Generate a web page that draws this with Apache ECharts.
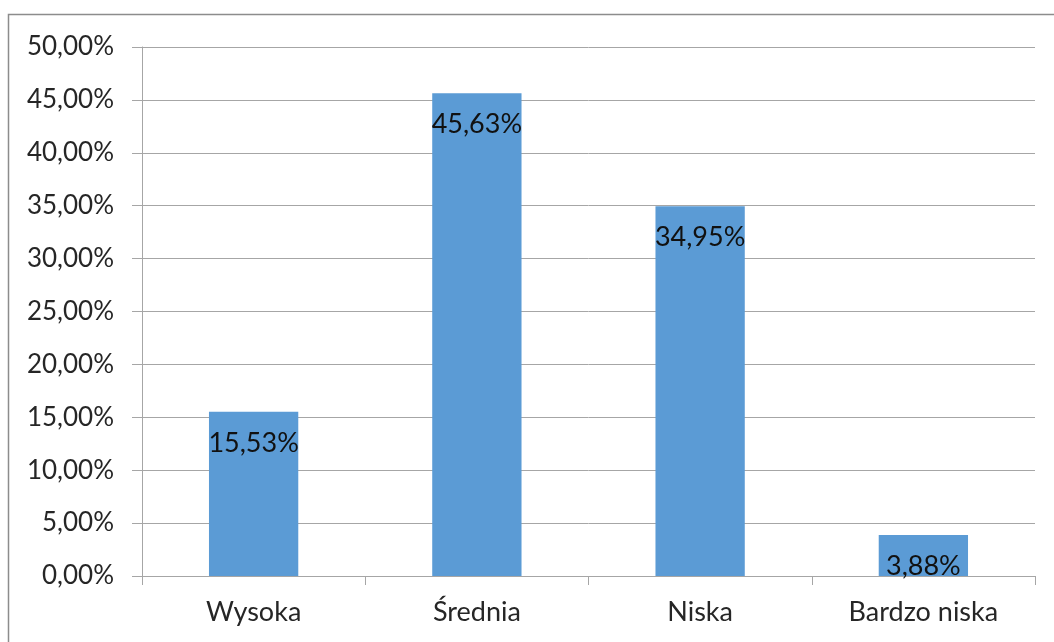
<!DOCTYPE html>
<html>
<head>
<meta charset="utf-8">
<script src="https://cdn.jsdelivr.net/npm/echarts@6/dist/echarts.min.js"></script>
<style>html,body{margin:0;padding:0;background:#fff}#c{width:1054px;height:642px}</style>
</head>
<body>
<div id="c"></div>
<script>
const categories = ['Wysoka', 'Średnia', 'Niska', 'Bardzo niska'];
const values = [15.53, 45.63, 34.95, 3.88];
const yMin = 0, yMax = 50, yInterval = 5;

const fmt = v => v.toFixed(2).replace('.', ',') + '%';
const chart = echarts.init(document.getElementById('c'));
const font = 'Lato, "Open Sans", sans-serif';
chart.setOption({
  animation: false,
  graphic: [{
    type: 'rect', shape: {x: 8.5, y: 14.5, width: 1200, height: 800},
    style: {fill: 'none', stroke: '#8c8c8c', lineWidth: 1.5}, silent: true
  }],
  grid: {left: 142, right: 19, top: 47, bottom: 66},
  xAxis: {
    type: 'category', data: categories,
    axisLine: {lineStyle: {color: '#a6a6a6', width: 1}},
    axisTick: {show: true, length: 9, lineStyle: {color: '#a6a6a6'}},
    axisLabel: {color: '#262626', fontSize: 27, fontFamily: font, margin: 23}
  },
  yAxis: {
    type: 'value', min: yMin, max: yMax, interval: yInterval,
    axisLine: {show: true, lineStyle: {color: '#a6a6a6', width: 1}},
    axisTick: {show: true, length: 10, lineStyle: {color: '#a6a6a6'}},
    splitLine: {lineStyle: {color: '#a6a6a6', width: 1}},
    axisLabel: {color: '#262626', fontSize: 26, fontFamily: font, margin: 28, formatter: fmt}
  },
  series: [{
    type: 'bar', data: values, barWidth: '40%',
    itemStyle: {color: '#5b9bd5'},
    label: {show: true, position: 'insideTop', distance: 18, color: '#111', fontSize: 27, fontFamily: font, formatter: p => fmt(p.value)}
  }]
});
</script>
</body>
</html>
